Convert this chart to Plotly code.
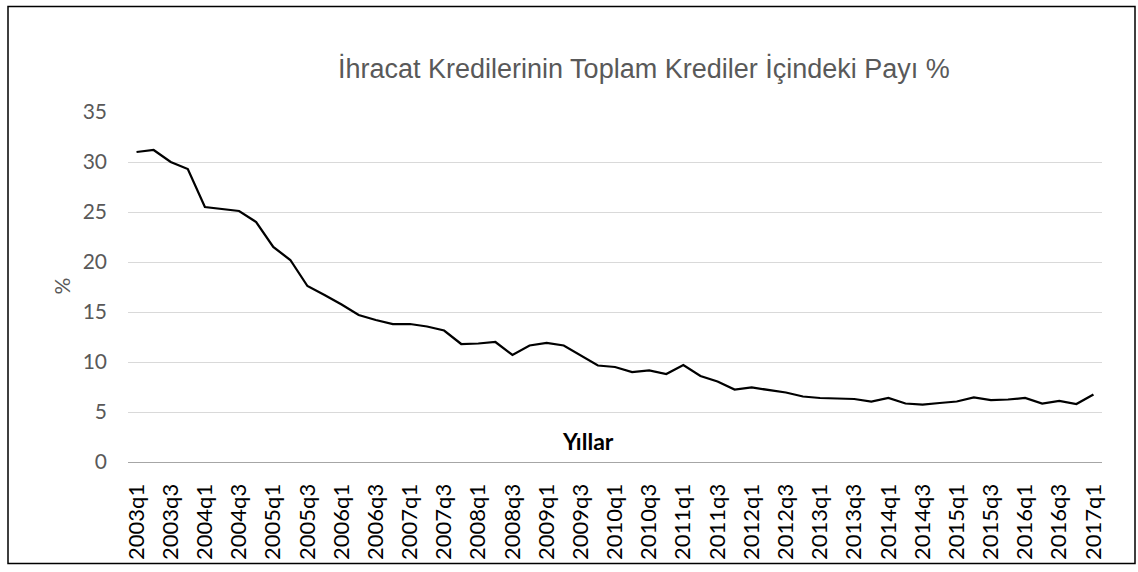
import plotly.graph_objects as go

# ---- data ----
years = list(range(2003, 2018))
quarters = [f"{y}q{q}" for y in years for q in range(1, 5)][:57]  # 2003q1 .. 2017q1
share = [
    31.0, 31.2, 30.0, 29.3, 25.5, 25.3, 25.1, 24.0, 21.5, 20.2,
    17.6, 16.7, 15.75, 14.7, 14.2, 13.8, 13.8, 13.55, 13.15, 11.8,
    11.85, 12.0, 10.7, 11.65, 11.9, 11.65, 10.65, 9.65, 9.5, 9.0,
    9.15, 8.8, 9.7, 8.6, 8.05, 7.25, 7.45, 7.2, 6.95, 6.55,
    6.4, 6.35, 6.3, 6.05, 6.4, 5.85, 5.75, 5.9, 6.05, 6.45,
    6.2, 6.25, 6.4, 5.85, 6.1, 5.8, 6.75,
]
tick_labels = quarters[::2]
y_ticks = [0, 5, 10, 15, 20, 25, 30, 35]

title_text = "İhracat Kredilerinin Toplam Krediler İçindeki Payı %"
x_title = "Yıllar"
y_title = "%"

# ---- layout geometry ----
W, H = 1138, 572
L, R, T, B = 128, 36, 112, 105
pw, ph = W - L - R, H - T - B


def px(x):
    return (x - L) / pw


def py(y):
    return (H - B - y) / ph


fig = go.Figure()
fig.add_trace(go.Scatter(
    x=quarters, y=share, mode="lines",
    line=dict(color="black", width=2.25),
    showlegend=False, hoverinfo="x+y",
))

fig.update_layout(
    width=W, height=H,
    margin=dict(l=L, r=R, t=T, b=B),
    paper_bgcolor="white", plot_bgcolor="white",
    xaxis=dict(
        type="category",
        range=[-0.5, len(quarters) - 0.5],
        tickmode="array", tickvals=tick_labels, ticktext=tick_labels,
        tickangle=-90,
        tickfont=dict(family="Lato", size=22, color="black"),
        showgrid=False, zeroline=False,
        showline=True, linecolor="#a6a6a6", linewidth=1,
        ticks="", ticklabelstandoff=12,
    ),
    yaxis=dict(
        range=[0, 35], tickvals=y_ticks,
        tickfont=dict(family="Lato", size=21, color="#595959"),
        showgrid=True, gridcolor="#d9d9d9", gridwidth=1,
        zeroline=False, showline=False, ticks="",
        ticklabelstandoff=20,
    ),
    shapes=[
        dict(type="rect", xref="paper", yref="paper",
             x0=px(8), x1=px(1135), y0=py(570), y1=py(5),
             line=dict(color="black", width=1.5), fillcolor="rgba(0,0,0,0)",
             layer="above"),
    ],
    annotations=[
        dict(text=title_text, xref="paper", yref="paper",
             x=px(644), y=py(68), xanchor="center", yanchor="middle",
             showarrow=False,
             font=dict(family="Liberation Sans", size=27, color="#595959")),
        dict(text=f"<b>{x_title}</b>", xref="paper", yref="paper",
             x=px(588), y=py(446), xanchor="center", yanchor="middle",
             showarrow=False,
             font=dict(family="Lato", size=23, color="black")),
        dict(text=y_title, xref="paper", yref="paper",
             x=px(62), y=py(289), xanchor="center", yanchor="middle",
             textangle=-90, showarrow=False,
             font=dict(family="Lato", size=21, color="#595959")),
    ],
)

fig.write_html(
    "out.html",
    config={"displayModeBar": False},
    post_script="document.body.style.margin='0';document.body.style.overflow='hidden';",
)
